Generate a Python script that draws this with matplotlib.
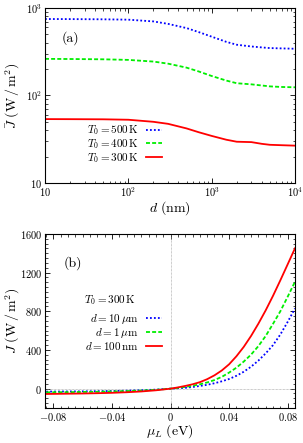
import matplotlib
matplotlib.use("Agg")
import matplotlib.pyplot as plt
import numpy as np
from matplotlib.ticker import MultipleLocator, LogLocator, NullFormatter, FuncFormatter

plt.rcParams['font.family'] = ['cmr10', 'DejaVu Serif']
plt.rcParams['mathtext.fontset'] = 'cm'
plt.rcParams['axes.formatter.use_mathtext'] = True
plt.rcParams['axes.unicode_minus'] = True

# (a) 平均热流随间距 d 变化
d_nm = [10, 20, 50, 100, 200, 300, 500, 700, 1000, 1500, 2000, 3000, 4000, 5000, 7000, 10000]
J_500 = [748, 746, 742, 735, 702, 658, 589, 530, 470, 410, 380, 363, 354, 348, 345, 342]
J_400 = [262, 261, 259, 255, 244, 231, 208, 188, 167, 148, 138, 134, 130, 127, 125, 124]
J_300 = [53.7, 53.6, 53.4, 52.8, 50.0, 47.4, 42.0, 38.0, 34.5, 31.2, 29.6, 29.3, 28.0, 27.3, 27.0, 26.7]

# (b) J 随 mu_L 变化, T0 = 300 K
mu = [-0.085, -0.08, -0.07, -0.06, -0.05, -0.04, -0.03, -0.02, -0.01, 0.0,
      0.005, 0.01, 0.015, 0.02, 0.025, 0.03, 0.035, 0.04, 0.045, 0.05,
      0.055, 0.06, 0.065, 0.07, 0.075, 0.08, 0.085]
J_10um = [-31, -30, -29, -28, -26, -24, -21, -16, -10, 0,
          4, 9, 17, 28, 40, 56, 76, 100, 133, 175,
          227, 290, 365, 450, 560, 690, 829]
J_1um = [-38, -37, -36, -34, -32, -29, -25, -20, -12, 0,
         8, 18, 30, 45, 64, 89, 122, 166, 217, 280,
         352, 440, 545, 670, 800, 950, 1105]
J_100nm = [-55, -54, -52, -50, -47, -43, -37, -29, -17, 0,
           13, 28, 45, 67, 98, 138, 188, 252, 335, 432,
           545, 672, 810, 960, 1120, 1285, 1451]


def pow10(v, pos):
    e = int(round(np.log10(v)))
    if e == 1:
        return r'$10$'
    return r'$10^{%d}$' % e


fig = plt.figure(figsize=(3.03, 4.43), dpi=100)
ax1 = fig.add_axes([0.1485, 0.587, 0.825, 0.395])
ax2 = fig.add_axes([0.1485, 0.079, 0.825, 0.393])

lw = 1.3
fs_tick = 7.5
fs_lab = 10
fs_leg = 8

ax1.plot(d_nm, J_500, color='#0000ff', ls=(0, (1, 1.2)), lw=lw, label=r'$T_0 = 500\,\mathrm{K}$')
ax1.plot(d_nm, J_400, color='#00ee00', ls=(0, (2.2, 1.2)), lw=lw, label=r'$T_0 = 400\,\mathrm{K}$')
ax1.plot(d_nm, J_300, color='#ff0000', ls='-', lw=lw, label=r'$T_0 = 300\,\mathrm{K}$')
ax1.set_xscale('log')
ax1.set_yscale('log')
ax1.set_xlim(10, 1e4)
ax1.set_ylim(10, 1e3)
ax1.set_xlabel(r'$d\ (\mathrm{nm})$', fontsize=fs_lab)
ax1.set_ylabel(r'$\bar{J}\ (\mathrm{W\,/\,m^2})$', fontsize=fs_lab)
ax1.xaxis.set_label_coords(0.5, -0.095)
ax1.yaxis.set_label_coords(-0.09, 0.5)
ax1.text(0.10, 0.83, '(a)', transform=ax1.transAxes, fontsize=fs_lab, ha='center', va='center')
ax1.legend(loc='lower right', bbox_to_anchor=(0.49, 0.07), frameon=False, markerfirst=False,
           fontsize=fs_leg, handlelength=1.4, handletextpad=0.7, labelspacing=0.0, borderpad=0)
ax1.xaxis.set_minor_locator(LogLocator(base=10, subs=range(2, 10)))
ax1.yaxis.set_minor_locator(LogLocator(base=10, subs=range(2, 10)))
ax1.xaxis.set_minor_formatter(NullFormatter())
ax1.yaxis.set_minor_formatter(NullFormatter())
ax1.xaxis.set_major_formatter(FuncFormatter(pow10))
ax1.yaxis.set_major_formatter(FuncFormatter(pow10))

ax2.axhline(0, color='#999999', ls=(0, (1, 1)), lw=0.5)
ax2.axvline(0, color='#999999', ls=(0, (1, 1)), lw=0.5)
ax2.plot(mu, J_10um, color='#0000ff', ls=(0, (1, 1.2)), lw=lw, label=r'$d = 10\,\mu\mathrm{m}$')
ax2.plot(mu, J_1um, color='#00ee00', ls=(0, (2.2, 1.2)), lw=lw, label=r'$d = 1\,\mu\mathrm{m}$')
ax2.plot(mu, J_100nm, color='#ff0000', ls='-', lw=lw, label=r'$d = 100\,\mathrm{nm}$')
ax2.set_xlim(-0.0858, 0.085)
ax2.set_ylim(-200, 1600)
ax2.set_xticks([-0.08, -0.04, 0, 0.04, 0.08])
ax2.set_xticklabels(['$-0.08$', '$-0.04$', '$0$', '$0.04$', '$0.08$'])
ax2.set_yticks([0, 400, 800, 1200, 1600])
ax2.xaxis.set_minor_locator(MultipleLocator(0.005))
ax2.yaxis.set_minor_locator(MultipleLocator(50))
ax2.set_xlabel(r'$\mu_L\ (\mathrm{eV})$', fontsize=fs_lab)
ax2.set_ylabel(r'$J\ (\mathrm{W\,/\,m^2})$', fontsize=fs_lab)
ax2.xaxis.set_label_coords(0.5, -0.08)
ax2.yaxis.set_label_coords(-0.09, 0.5)
ax2.text(0.11, 0.83, '(b)', transform=ax2.transAxes, fontsize=fs_lab, ha='center', va='center')
ax2.text(0.26, 0.62, r'$T_0 = 300\,\mathrm{K}$', transform=ax2.transAxes, fontsize=fs_leg,
         ha='center', va='center')
ax2.legend(loc='lower right', bbox_to_anchor=(0.49, 0.29), frameon=False, markerfirst=False,
           fontsize=fs_leg, handlelength=1.4, handletextpad=0.7, labelspacing=0.0, borderpad=0)

for ax in (ax1, ax2):
    ax.tick_params(which='both', direction='in', top=True, right=True, labelsize=fs_tick, pad=2)
    ax.tick_params(which='major', length=3.5, width=0.6)
    ax.tick_params(which='minor', length=1.8, width=0.5)
    for s in ax.spines.values():
        s.set_linewidth(0.8)

fig.savefig('out.png', dpi=100)
